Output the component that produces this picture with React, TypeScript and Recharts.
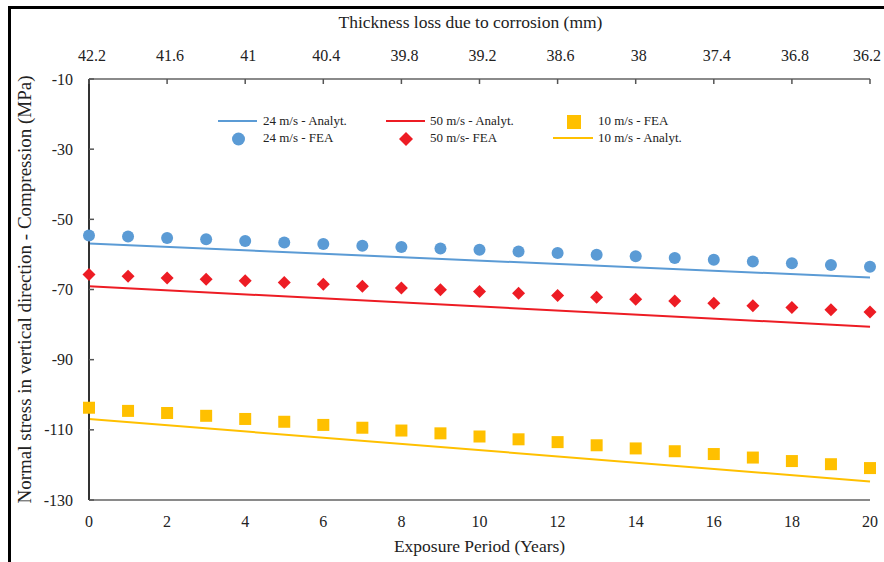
import React from 'react';
import { ComposedChart, Line, Scatter, XAxis, YAxis, Label } from 'recharts';

const years = [0, 1, 2, 3, 4, 5, 6, 7, 8, 9, 10, 11, 12, 13, 14, 15, 16, 17, 18, 19, 20];
const yearTicks = [0, 2, 4, 6, 8, 10, 12, 14, 16, 18, 20];
const thicknessTicks = ['42.2', '41.6', '41', '40.4', '39.8', '39.2', '38.6', '38', '37.4', '36.8', '36.2'];
const stressTicks = [-130, -110, -90, -70, -50, -30, -10];

const fea24 = [-54.6, -54.9, -55.3, -55.7, -56.2, -56.6, -57.0, -57.5, -57.9, -58.3, -58.7, -59.2, -59.6, -60.1, -60.5, -61.0, -61.5, -62.0, -62.5, -63.0, -63.5];
const fea50 = [-65.7, -66.2, -66.7, -67.1, -67.5, -68.0, -68.5, -69.1, -69.6, -70.1, -70.6, -71.1, -71.7, -72.2, -72.8, -73.3, -73.9, -74.6, -75.1, -75.8, -76.4];
const fea10 = [-103.7, -104.6, -105.2, -106.0, -106.9, -107.7, -108.6, -109.4, -110.2, -111.0, -111.9, -112.7, -113.5, -114.4, -115.3, -116.1, -116.9, -117.9, -118.9, -119.8, -120.9];

const analytYears = [0, 20];
const analyt24 = [-56.9, -66.6];
const analyt50 = [-69.1, -80.6];
const analyt10 = [-106.9, -124.7];

const BLUE = '#5B9BD5';
const RED = '#ED1C24';
const YELLOW = '#FFC000';
const FONT = '"Liberation Serif", "Times New Roman", serif';
const TEXT = '#222';

const toPoints = (xs: number[], ys: number[]) => xs.map((x, i) => ({ x, y: ys[i] }));

const Circle = (p: any) => <circle cx={p.cx} cy={p.cy} r={6} fill={BLUE} />;
const Diamond = (p: any) => (
  <polygon
    points={`${p.cx},${p.cy - 6.5} ${p.cx + 6.5},${p.cy} ${p.cx},${p.cy + 6.5} ${p.cx - 6.5},${p.cy}`}
    fill={RED}
  />
);
const Square = (p: any) => <rect x={p.cx - 6} y={p.cy - 6} width={12} height={12} fill={YELLOW} />;

const TOP_MARGIN = 16;
const LEFT_MARGIN = 16;

// top axis: label above, small tick pointing into the plot
const TopTick = (p: any) => {
  const idx = yearTicks.indexOf(p.payload.value);
  const axisY = p.y + TOP_MARGIN;
  const last = idx === yearTicks.length - 1;
  return (
    <g>
      <line x1={p.x} x2={p.x} y1={axisY} y2={axisY + 5} stroke="#555" strokeWidth={1.5} />
      <text x={last ? p.x - 3 : p.x + 3} y={p.y - 2} textAnchor="middle" fontFamily={FONT} fontSize={16} fill={TEXT}>
        {thicknessTicks[idx]}
      </text>
    </g>
  );
};

// left axis: label left, small tick pointing into the plot
const LeftTick = (p: any) => {
  const axisX = p.x + LEFT_MARGIN;
  return (
    <g>
      <line x1={axisX} x2={axisX + 5} y1={p.y} y2={p.y} stroke="#555" strokeWidth={1.5} />
      <text x={p.x} y={p.y} dy="0.35em" textAnchor="end" fontFamily={FONT} fontSize={16} fill={TEXT}>
        {p.payload.value}
      </text>
    </g>
  );
};

const BottomTick = (p: any) => (
  <text x={p.x} y={p.y} dy="0.71em" textAnchor="middle" fontFamily={FONT} fontSize={16} fill={TEXT}>
    {p.payload.value}
  </text>
);

const LegendBox = () => {
  const txt: React.CSSProperties = { position: 'absolute', fontSize: 13, lineHeight: '16px', color: TEXT, whiteSpace: 'nowrap' };
  return (
    <div style={{ position: 'absolute', left: 0, top: 0, width: 876, height: 160, pointerEvents: 'none' }}>
      <svg width={876} height={160} style={{ position: 'absolute', left: 0, top: 0 }}>
        <line x1={210} x2={249} y1={113} y2={113} stroke={BLUE} strokeWidth={2} />
        <circle cx={230.5} cy={131} r={6.5} fill={BLUE} />
        <line x1={378} x2={417} y1={113} y2={113} stroke={RED} strokeWidth={2} />
        <polygon points="398,124 405,131 398,138 391,131" fill={RED} />
        <rect x={559} y={107} width={14} height={14} fill={YELLOW} />
        <line x1={545} x2={585} y1={130} y2={130} stroke={YELLOW} strokeWidth={2} />
      </svg>
      <div style={{ ...txt, left: 255, top: 105 }}>24 m/s - Analyt.</div>
      <div style={{ ...txt, left: 255, top: 122 }}>24 m/s - FEA</div>
      <div style={{ ...txt, left: 422, top: 105 }}>50 m/s - Analyt.</div>
      <div style={{ ...txt, left: 422, top: 122 }}>50 m/s- FEA</div>
      <div style={{ ...txt, left: 590, top: 105 }}>10 m/s - FEA</div>
      <div style={{ ...txt, left: 590, top: 122 }}>10 m/s - Analyt.</div>
    </div>
  );
};

export default function App() {
  return (
    <div style={{ position: 'absolute', left: 8, top: 8, width: 876, height: 554, fontFamily: FONT }}>
      <div
        style={{
          position: 'absolute', left: 0, top: -2, width: 876, height: 556,
          borderTop: '3px solid #000', borderLeft: '3px solid #000', boxSizing: 'border-box',
        }}
      />
      <ComposedChart width={876} height={554} margin={{ top: 0, right: 14, bottom: 0, left: 0 }} style={{ overflow: 'visible' }}>
        <XAxis
          xAxisId="bottom"
          dataKey="x"
          type="number"
          domain={[0, 20]}
          ticks={yearTicks}
          orientation="bottom"
          height={62}
          tickLine={false}
          tickSize={0}
          tickMargin={16}
          tick={<BottomTick />}
          axisLine={{ stroke: '#8a8a8a', strokeWidth: 2 }}
        >
          <Label value="Exposure Period (Years)" position="insideBottom" offset={10} style={{ fontSize: 17.5, fill: TEXT, fontFamily: FONT }} />
        </XAxis>
        <XAxis
          xAxisId="top"
          dataKey="x"
          type="number"
          domain={[0, 20]}
          allowDataOverflow
          ticks={yearTicks}
          orientation="top"
          height={71}
          tickLine={false}
          tickSize={0}
          tickMargin={TOP_MARGIN}
          tick={<TopTick />}
          axisLine={{ stroke: '#8a8a8a', strokeWidth: 2 }}
        >
          <Label value="Thickness loss due to corrosion (mm)" position="insideTop" offset={8} dx={-9} style={{ fontSize: 17.5, fill: TEXT, fontFamily: FONT }} />
        </XAxis>
        <YAxis
          yAxisId="left"
          dataKey="y"
          type="number"
          domain={[-130, -10]}
          ticks={stressTicks}
          width={81}
          tickLine={false}
          tickSize={0}
          tickMargin={LEFT_MARGIN}
          tick={<LeftTick />}
          axisLine={{ stroke: '#333', strokeWidth: 2 }}
        >
          <Label
            value="Normal stress in vertical direction - Compression (MPa)"
            angle={-90}
            position="insideLeft"
            offset={16}
            style={{ fontSize: 19, fill: TEXT, fontFamily: FONT, textAnchor: 'middle' }}
          />
        </YAxis>
        <YAxis
          yAxisId="right"
          orientation="right"
          type="number"
          domain={[-130, -10]}
          allowDataOverflow
          width={0}
          tick={false}
          tickLine={false}
          axisLine={{ stroke: '#8a8a8a', strokeWidth: 2 }}
        />
        <Line xAxisId="bottom" yAxisId="left" data={toPoints(analytYears, analyt24)} dataKey="y" stroke={BLUE} strokeWidth={2} dot={false} isAnimationActive={false} />
        <Line xAxisId="bottom" yAxisId="left" data={toPoints(analytYears, analyt50)} dataKey="y" stroke={RED} strokeWidth={2} dot={false} isAnimationActive={false} />
        <Line xAxisId="bottom" yAxisId="left" data={toPoints(analytYears, analyt10)} dataKey="y" stroke={YELLOW} strokeWidth={2} dot={false} isAnimationActive={false} />
        <Scatter xAxisId="bottom" yAxisId="left" data={toPoints(years, fea24)} dataKey="y" shape={Circle} isAnimationActive={false} />
        <Scatter xAxisId="bottom" yAxisId="left" data={toPoints(years, fea50)} dataKey="y" shape={Diamond} isAnimationActive={false} />
        <Scatter xAxisId="bottom" yAxisId="left" data={toPoints(years, fea10)} dataKey="y" shape={Square} isAnimationActive={false} />
      </ComposedChart>
      <LegendBox />
    </div>
  );
}
